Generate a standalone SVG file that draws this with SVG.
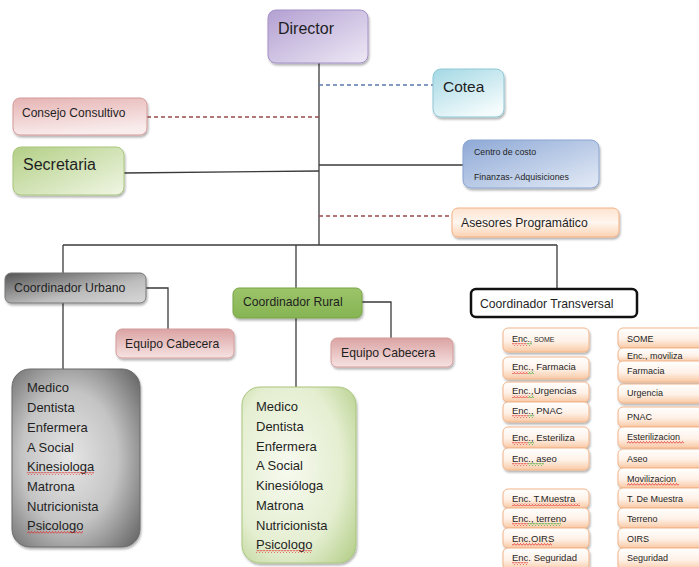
<svg xmlns="http://www.w3.org/2000/svg" width="699" height="567" viewBox="0 0 699 567">
<defs>
<filter id="sh" x="-10%" y="-10%" width="130%" height="140%"><feDropShadow dx="1" dy="2" stdDeviation="1.2" flood-color="#000" flood-opacity="0.3"/></filter>
<linearGradient id="gPur" x1="0" y1="0" x2="1" y2="1"><stop offset="0" stop-color="#b3a0d2"/><stop offset="1" stop-color="#eee9f5"/></linearGradient>
<linearGradient id="gCya" x1="0" y1="0" x2="0.6" y2="1"><stop offset="0" stop-color="#a3d8e4"/><stop offset="1" stop-color="#f3fbfc"/></linearGradient>
<linearGradient id="gPink" x1="0" y1="0" x2="0.3" y2="1"><stop offset="0" stop-color="#e6b3b3"/><stop offset="1" stop-color="#f9ecec"/></linearGradient>
<linearGradient id="gGrn" x1="0" y1="0" x2="1" y2="1"><stop offset="0" stop-color="#b3cf86"/><stop offset="1" stop-color="#f0f6e4"/></linearGradient>
<linearGradient id="gBlu" x1="0" y1="0" x2="1" y2="1"><stop offset="0" stop-color="#8ea9d6"/><stop offset="1" stop-color="#e4ebf6"/></linearGradient>
<linearGradient id="gOra" x1="0" y1="0" x2="0" y2="1"><stop offset="0" stop-color="#fde3cf"/><stop offset="0.5" stop-color="#fff6ef"/><stop offset="1" stop-color="#fbd2b2"/></linearGradient>
<linearGradient id="gGry" x1="0" y1="0" x2="1" y2="1"><stop offset="0" stop-color="#555"/><stop offset="0.6" stop-color="#bdbdbd"/><stop offset="1" stop-color="#d8d8d8"/></linearGradient>
<linearGradient id="gRur" x1="0" y1="0" x2="0" y2="1"><stop offset="0" stop-color="#9cc469"/><stop offset="1" stop-color="#86b453"/></linearGradient>
<linearGradient id="gEq" x1="0" y1="0" x2="0" y2="1"><stop offset="0" stop-color="#dba3a3"/><stop offset="1" stop-color="#f6e2e2"/></linearGradient>
<linearGradient id="gItem" x1="0" y1="0" x2="0" y2="1"><stop offset="0" stop-color="#fff"/><stop offset="0.55" stop-color="#fef1e7"/><stop offset="1" stop-color="#f9c9a5"/></linearGradient>
<radialGradient id="gList1" cx="0.45" cy="0.5" r="0.75"><stop offset="0" stop-color="#e6e6e6"/><stop offset="0.5" stop-color="#c4c4c4"/><stop offset="1" stop-color="#5c5c5c"/></radialGradient>
<radialGradient id="gList2" cx="0.4" cy="0.45" r="0.8"><stop offset="0" stop-color="#f7faf0"/><stop offset="0.6" stop-color="#e4eed0"/><stop offset="1" stop-color="#b2cd86"/></radialGradient>
<pattern id="sqR" width="3" height="3" patternUnits="userSpaceOnUse"><path d="M0,2.5 L1.5,0.5 L3,2.5" fill="none" stroke="#e02020" stroke-width="0.7"/></pattern>
<pattern id="sqG" width="3" height="3" patternUnits="userSpaceOnUse"><path d="M0,2.5 L1.5,0.5 L3,2.5" fill="none" stroke="#20a020" stroke-width="0.7"/></pattern>
</defs>
<style>
text{font-family:"Liberation Sans",Arial,sans-serif;fill:#1f1f1f}
.ln{stroke:#3a3a3a;stroke-width:1.3;fill:none}
.db{stroke:#5a7ab0;stroke-width:1.3;stroke-dasharray:4,3;fill:none}
.dr{stroke:#9a4a4a;stroke-width:1.3;stroke-dasharray:4,3;fill:none}
.it{fill:url(#gItem);stroke:#f2b489;stroke-width:1;filter:url(#sh)}
.t9{font-size:9.5px}
.t8{font-size:9px}
.t13{font-size:13px}
.sr{fill:url(#sqR)}
.sg{fill:url(#sqG)}
</style>

<g id="connectors">
<path class="ln" d="M319,63 V245"/>
<path class="db" d="M319,85 H433"/>
<path class="dr" d="M147,117 H319"/>
<path class="ln" d="M124,173 L319,171"/>
<path class="ln" d="M319,165 H463"/>
<path class="dr" d="M319,216 H452"/>
<path class="ln" d="M63,245 H557"/>
<path class="ln" d="M63,245 V273"/>
<path class="ln" d="M296,245 V288"/>
<path class="ln" d="M557,245 V289"/>
<path class="ln" d="M146,288 H168 V329"/>
<path class="ln" d="M63,303 V369"/>
<path class="ln" d="M362,302 H391 V338"/>
<path class="ln" d="M296,318 V387"/>
</g>

<g id="director"><rect x="268" y="10" width="100" height="53" rx="8" fill="url(#gPur)" stroke="#a491c6" filter="url(#sh)"/><text x="278" y="34" font-size="16">Director</text></g>
<g id="cotea"><rect x="433" y="69" width="71" height="48" rx="8" fill="url(#gCya)" stroke="#8ec7d6" filter="url(#sh)"/><text x="443" y="92" font-size="15.5">Cotea</text></g>
<g id="consejo"><rect x="13" y="98" width="134" height="37" rx="7" fill="url(#gPink)" stroke="#d59a9a" filter="url(#sh)"/><text x="22" y="117" font-size="12">Consejo Consultivo</text></g>
<g id="secretaria"><rect x="13" y="147" width="111" height="48" rx="8" fill="url(#gGrn)" stroke="#a9c67c" filter="url(#sh)"/><text x="23" y="170" font-size="16">Secretaria</text></g>
<g id="centro"><rect x="463" y="140" width="136" height="48" rx="8" fill="url(#gBlu)" stroke="#8aa5d2" filter="url(#sh)"/><text x="474" y="155" font-size="8.8">Centro de costo</text><text x="474" y="180" font-size="8.8">Finanzas- Adquisiciones</text></g>
<g id="asesores"><rect x="452" y="208" width="167" height="29" rx="6" fill="url(#gOra)" stroke="#f4b183" filter="url(#sh)"/><text x="461" y="226.5" font-size="12.2">Asesores Programático</text></g>

<g id="coord-urbano"><rect x="5" y="273" width="141" height="30" rx="6" fill="url(#gGry)" stroke="#777" filter="url(#sh)"/><text x="14" y="292" font-size="12.3">Coordinador Urbano</text></g>
<g id="equipo-urbano"><rect x="116" y="329" width="118" height="29" rx="6" fill="url(#gEq)" stroke="#d49c9c" filter="url(#sh)"/><text x="125" y="347.5" font-size="12.2">Equipo Cabecera</text></g>
<g id="coord-rural"><rect x="233" y="288" width="129" height="30" rx="6" fill="url(#gRur)" stroke="#78a446" filter="url(#sh)"/><text x="243" y="306" font-size="12.2">Coordinador Rural</text></g>
<g id="equipo-rural"><rect x="331" y="338" width="122" height="29" rx="6" fill="url(#gEq)" stroke="#d49c9c" filter="url(#sh)"/><text x="341" y="356.5" font-size="12.2">Equipo Cabecera</text></g>
<g id="coord-transversal"><rect x="471" y="289" width="166" height="28" rx="5" fill="#fff" stroke="#111" stroke-width="2.5"/><text x="480" y="307.5" font-size="12.2">Coordinador Transversal</text></g>

<g id="lista-urbano"><rect x="12" y="369" width="128" height="178" rx="18" fill="url(#gList1)" stroke="#6a6a6a" filter="url(#sh)"/>
<text class="t13" x="27" y="392">Medico</text><text class="t13" x="27" y="412">Dentista</text><text class="t13" x="27" y="432">Enfermera</text><text class="t13" x="27" y="452">A Social</text><text class="t13" x="27" y="471">Kinesiologa</text><text class="t13" x="27" y="491">Matrona</text><text class="t13" x="27" y="511">Nutricionista</text><text class="t13" x="27" y="530">Psicologo</text>
<rect class="sr" x="27" y="472" width="67" height="3"/><rect class="sr" x="27" y="531" width="56" height="3"/></g>

<g id="lista-rural"><rect x="242" y="387" width="114" height="176" rx="18" fill="url(#gList2)" stroke="#a9c67c" filter="url(#sh)"/>
<text class="t13" x="256" y="411">Medico</text><text class="t13" x="256" y="431">Dentista</text><text class="t13" x="256" y="450.5">Enfermera</text><text class="t13" x="256" y="470">A Social</text><text class="t13" x="256" y="490">Kinesióloga</text><text class="t13" x="256" y="510">Matrona</text><text class="t13" x="256" y="529.5">Nutricionista</text><text class="t13" x="256" y="549">Psicologo</text>
<rect class="sr" x="256" y="550" width="56" height="3"/></g>

<g id="enc-col">
<rect class="it" x="503" y="328" width="86" height="24" rx="5"/><text x="512" y="342" font-size="9">Enc.<tspan font-size="7">, SOME</tspan></text>
<rect class="it" x="503" y="357" width="86" height="22" rx="5"/><text class="t9" x="512" y="370">Enc., Farmacia</text>
<rect class="it" x="503" y="382" width="86" height="20" rx="5"/><text class="t9" x="512" y="394">Enc.,Urgencias</text>
<rect class="it" x="503" y="402" width="86" height="20" rx="5"/><text class="t9" x="512" y="414">Enc., PNAC</text>
<rect class="it" x="503" y="427" width="86" height="21" rx="5"/><text class="t9" x="512" y="441">Enc., Esteriliza</text>
<rect class="it" x="503" y="448" width="86" height="22" rx="5"/><text class="t9" x="512" y="462">Enc., aseo</text>
<rect class="it" x="503" y="489" width="86" height="19" rx="5"/><text class="t9" x="512" y="502">Enc. T.Muestra</text>
<rect class="it" x="503" y="508" width="86" height="20" rx="5"/><text class="t9" x="512" y="522">Enc., terreno</text>
<rect class="it" x="503" y="528" width="86" height="20" rx="5"/><text class="t9" x="512" y="542">Enc.OIRS</text>
<rect class="it" x="503" y="548" width="86" height="22" rx="5"/><text class="t9" x="512" y="561">Enc. Seguridad</text>
<rect class="sr" x="512" y="343" width="15" height="3"/><rect class="sg" x="527" y="343" width="5" height="3"/>
<rect class="sr" x="512" y="371" width="16" height="3"/><rect class="sg" x="528" y="371" width="6" height="3"/>
<rect class="sr" x="512" y="395" width="16" height="3"/><rect class="sg" x="528" y="395" width="6" height="3"/>
<rect class="sr" x="512" y="415" width="16" height="3"/><rect class="sg" x="528" y="415" width="6" height="3"/>
<rect class="sr" x="512" y="442" width="16" height="3"/><rect class="sg" x="528" y="442" width="6" height="3"/>
<rect class="sr" x="512" y="463" width="16" height="3"/><rect class="sg" x="528" y="463" width="16" height="3"/>
<rect class="sr" x="512" y="503" width="68" height="3"/>
<rect class="sr" x="512" y="523" width="16" height="3"/><rect class="sg" x="528" y="523" width="33" height="3"/>
<rect class="sr" x="512" y="543" width="40" height="3"/>
<rect class="sr" x="512" y="562" width="16" height="3"/>
</g>

<g id="area-col">
<rect class="it" x="618" y="328" width="90" height="20" rx="5"/><text class="t8" x="627" y="342">SOME</text>
<rect class="it" x="618" y="348" width="90" height="14" rx="5"/><text class="t8" x="627" y="359">Enc., moviliza</text>
<rect class="it" x="618" y="361" width="90" height="21" rx="5"/><text class="t8" x="627" y="374">Farmacia</text>
<rect class="it" x="618" y="384" width="90" height="19" rx="5"/><text class="t8" x="627" y="396">Urgencia</text>
<rect class="it" x="618" y="407" width="90" height="20" rx="5"/><text class="t8" x="627" y="420">PNAC</text>
<rect class="it" x="618" y="427" width="90" height="21" rx="5"/><text class="t8" x="627" y="440">Esterilizacion</text>
<rect class="it" x="618" y="449" width="90" height="19" rx="5"/><text class="t8" x="627" y="462">Aseo</text>
<rect class="it" x="618" y="468" width="90" height="20" rx="5"/><text class="t8" x="627" y="482">Movilizacion</text>
<rect class="it" x="618" y="488" width="90" height="20" rx="5"/><text class="t8" x="627" y="502">T. De Muestra</text>
<rect class="it" x="618" y="508" width="90" height="20" rx="5"/><text class="t8" x="627" y="522">Terreno</text>
<rect class="it" x="618" y="528" width="90" height="20" rx="5"/><text class="t8" x="627" y="542">OIRS</text>
<rect class="it" x="618" y="548" width="90" height="22" rx="5"/><text class="t8" x="627" y="561">Seguridad</text>
<rect class="sr" x="627" y="441" width="57" height="3"/>
<rect class="sr" x="627" y="483" width="52" height="3"/>
</g>
</svg>
